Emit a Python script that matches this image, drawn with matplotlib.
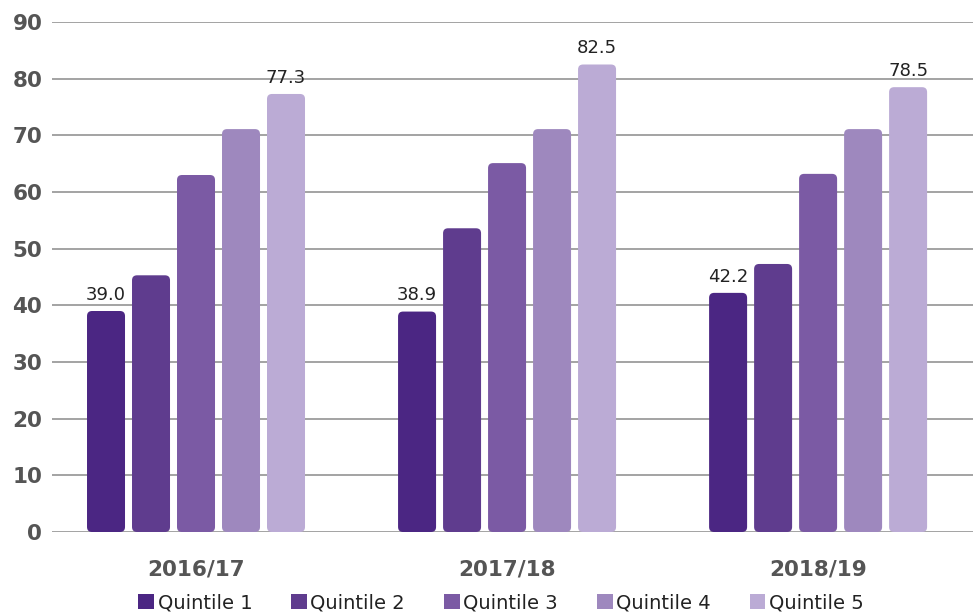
import matplotlib
matplotlib.use("Agg")
import matplotlib.pyplot as plt
from matplotlib.patches import FancyBboxPatch, Patch

# data
years = ["2016/17", "2017/18", "2018/19"]
quintiles = ["Quintile 1", "Quintile 2", "Quintile 3", "Quintile 4", "Quintile 5"]
q1 = [39.0, 38.9, 42.2]
q2 = [45.3, 53.6, 47.3]
q3 = [63.0, 65.1, 63.2]
q4 = [71.1, 71.1, 71.1]
q5 = [77.3, 82.5, 78.5]
series = [q1, q2, q3, q4, q5]
labelled = [0, 4]  # only first and last quintile carry value labels

colors = ["#4b2683", "#5f3c8e", "#7b5aa4", "#9e88be", "#bbabd5"]

W, H = 973, 614
fig = plt.figure(figsize=(W / 100, H / 100), dpi=100)
ax = fig.add_axes([52 / W, 1 - 532 / H, 1 - 52 / W, (532 - 22) / H])

xmin, xmax = -0.463, 2.498
ymin, ymax = 0, 90
ax.set_xlim(xmin, xmax)
ax.set_ylim(ymin, ymax)

# pixel scales, used to keep corner rounding circular
ax_w_px = W - 52
ax_h_px = 532 - 22
x_per_px = (xmax - xmin) / ax_w_px
y_per_px = (ymax - ymin) / ax_h_px

bar_w = 38 * x_per_px
step = 45 * x_per_px
pad = 5 * x_per_px

for i, vals in enumerate(series):
    off = (i - 2) * step
    for g, v in enumerate(vals):
        x0 = g + off - bar_w / 2
        p = FancyBboxPatch((x0 + pad, pad * y_per_px / x_per_px),
                           bar_w - 2 * pad, v - 2 * pad * y_per_px / x_per_px,
                           boxstyle=f"round,pad={pad}",
                           mutation_aspect=y_per_px / x_per_px,
                           facecolor=colors[i], edgecolor="none", zorder=3)
        ax.add_patch(p)
        if i in labelled:
            ax.text(g + off, v + 1.3, f"{v:.1f}", ha="center", va="bottom",
                    fontsize=13, color="#222222", zorder=4)

ax.set_yticks(range(0, 91, 10))
ax.set_xticks(range(len(years)))
ax.set_xticklabels(years)
ax.grid(axis="y", color="#8a8a8a", linewidth=1.1, zorder=0)
ax.set_axisbelow(True)
for s in ax.spines.values():
    s.set_visible(False)
ax.tick_params(axis="both", length=0)
ax.tick_params(axis="y", pad=7)
ax.tick_params(axis="x", pad=20)
for t in ax.get_yticklabels():
    t.set_fontsize(15.5)
    t.set_fontweight("bold")
    t.set_color("#555555")
for t in ax.get_xticklabels():
    t.set_fontsize(15.5)
    t.set_fontweight("bold")
    t.set_color("#555555")

handles = [Patch(facecolor=c, edgecolor="none") for c in colors]
fig.legend(handles, quintiles, loc="center", bbox_to_anchor=(0.515, 0.018),
           ncol=5, frameon=False, fontsize=14, handlelength=0.8,
           handleheight=0.8, handletextpad=0.2, columnspacing=2.0,
           labelcolor="#222222")

fig.savefig("out.png", dpi=100)
